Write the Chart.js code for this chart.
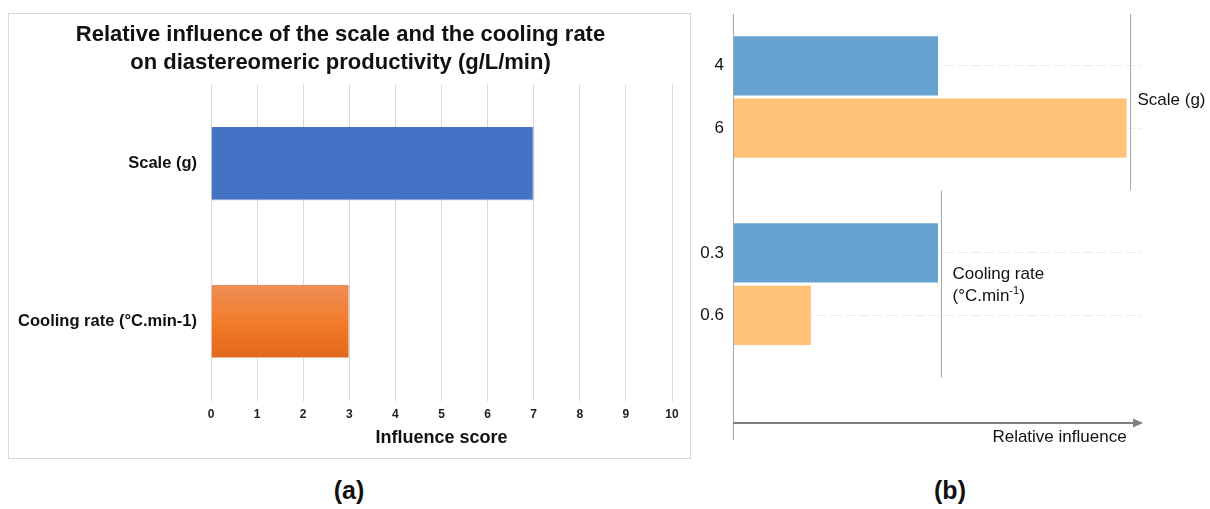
<!DOCTYPE html>
<html>
<head>
<meta charset="utf-8">
<script src="https://cdn.jsdelivr.net/npm/chart.js@4.4.1/dist/chart.umd.min.js"></script>
<style>
  body { margin: 0; width: 1210px; height: 509px; background: #fff; position: relative; overflow: hidden; font-family: "Liberation Sans", Arial, sans-serif; }
  #boxA { position: absolute; left: 8px; top: 13px; width: 681px; height: 444px; border: 1px solid #d9d9d9; }
  #boxB { position: absolute; left: 690px; top: 0; width: 520px; height: 460px; }
  .tag { position: absolute; top: 476px; font-weight: bold; font-size: 25px; color: #111; transform: translateX(-50%); }
</style>
</head>
<body>
<div id="boxA"><canvas id="scoreChart"></canvas></div>
<div id="boxB"><canvas id="levelChart"></canvas></div>
<div class="tag" style="left:349px">(a)</div>
<div class="tag" style="left:950px">(b)</div>
<script>
// (a) influence score of each factor
const factorNames = ["Scale (g)", "Cooling rate (°C.min-1)"];
const influenceScores = [7, 3];

// (b) relative influence of each factor level
const levelLabels = ["4", "6", "0.3", "0.6"];
const levelRows = [0, 1, 3, 4];
const relativeInfluence = [5, 9.6, 5, 1.9];
const levelGroup = [0, 0, 1, 1];
const groupNames = ["Scale (g)", "Cooling rate"];

const FONT = "'Liberation Sans', Arial, sans-serif";
Chart.defaults.font.family = FONT;
Chart.defaults.color = "#222";

function orangeFill(ctx) {
  const chart = ctx.chart;
  if (!chart.chartArea) return "#f07e2e";
  const y = chart.scales.y.getPixelForValue(ctx.dataIndex);
  const g = chart.ctx.createLinearGradient(0, y - 37, 0, y + 37);
  g.addColorStop(0, "#f08d58");
  g.addColorStop(0.5, "#f37c2b");
  g.addColorStop(1, "#e2671a");
  return g;
}

new Chart(document.getElementById("scoreChart"), {
  type: "bar",
  data: {
    labels: factorNames,
    datasets: [{
      data: influenceScores,
      backgroundColor: ctx => ctx.dataIndex === 0 ? "#4472c4" : orangeFill(ctx),
      borderColor: ["rgba(40,70,130,0.35)", "rgba(150,70,20,0.3)"],
      borderWidth: { top: 0, left: 0, right: 1, bottom: 1 },
      borderSkipped: false,
      categoryPercentage: 0.5,
      barPercentage: 0.93
    }]
  },
  options: {
    indexAxis: "y",
    responsive: true,
    maintainAspectRatio: false,
    animation: false,
    layout: { padding: { left: 0, right: 18, top: 0, bottom: 11 } },
    plugins: {
      legend: { display: false },
      tooltip: { enabled: false },
      title: {
        display: true,
        text: ["Relative influence of the scale and the cooling rate", "on diastereomeric productivity (g/L/min)"],
        color: "#111",
        font: { size: 22, weight: "bold", lineHeight: 1.27 },
        padding: { top: 7, bottom: 8 }
      }
    },
    scales: {
      x: {
        min: 0,
        max: 10,
        ticks: { stepSize: 1, padding: 7, color: "#222", font: { size: 12, weight: "bold" } },
        grid: { color: "#d9d9d9", drawTicks: false },
        border: { display: false },
        title: { display: true, text: "Influence score", color: "#111", font: { size: 18, weight: "bold", lineHeight: 1 }, padding: { top: 0, bottom: 0 } }
      },
      y: {
        ticks: { padding: 14, color: "#111", font: { size: 16.5, weight: "bold" } },
        grid: { display: false, drawTicks: false },
        border: { display: false },
        afterFit: scale => { scale.width = 202; }
      }
    }
  }
});

// brackets, group names and the arrowed axis of panel (b)
const levelDecor = {
  id: "levelDecor",
  afterDraw(chart) {
    const { ctx, chartArea, scales: { x, y } } = chart;
    ctx.save();
    // left axis line
    ctx.strokeStyle = "#a6a6a6";
    ctx.lineWidth = 1;
    ctx.beginPath();
    ctx.moveTo(chartArea.left + 0.5, chartArea.top);
    ctx.lineTo(chartArea.left + 0.5, chartArea.bottom);
    ctx.stroke();

    // bottom arrow
    const ay = chartArea.bottom - 17;
    ctx.strokeStyle = "#7f7f7f";
    ctx.fillStyle = "#7f7f7f";
    ctx.lineWidth = 2;
    ctx.beginPath();
    ctx.moveTo(chartArea.left, ay);
    ctx.lineTo(chartArea.right - 8, ay);
    ctx.stroke();
    ctx.beginPath();
    ctx.moveTo(chartArea.right, ay);
    ctx.lineTo(chartArea.right - 10, ay - 4.5);
    ctx.lineTo(chartArea.right - 10, ay + 4.5);
    ctx.closePath();
    ctx.fill();

    ctx.fillStyle = "#111";
    ctx.font = "17px " + FONT;
    ctx.textAlign = "right";
    ctx.textBaseline = "middle";
    ctx.fillText("Relative influence", x.getPixelForValue(relativeInfluence[1]), ay + 14);

    // one bracket per factor
    groupNames.forEach((name, g) => {
      const idx = levelGroup.map((v, i) => v === g ? i : -1).filter(i => i >= 0);
      const rows = idx.map(i => levelRows[i]);
      const first = Math.min(...rows), last = Math.max(...rows);
      const prev = levelRows.filter(r => r < first);
      const next = levelRows.filter(r => r > last);
      const top = prev.length ? (Math.max(...prev) + first) / 2 : y.min;
      const bottom = next.length ? (Math.min(...next) + last) / 2 : last + 1;
      const bx = Math.round(x.getPixelForValue(Math.max(...idx.map(i => relativeInfluence[i])))) + 3.5;
      ctx.strokeStyle = "#a6a6a6";
      ctx.lineWidth = 1;
      ctx.beginPath();
      ctx.moveTo(bx, y.getPixelForValue(top));
      ctx.lineTo(bx, y.getPixelForValue(bottom));
      ctx.stroke();

      const cy = y.getPixelForValue((first + last) / 2);
      ctx.fillStyle = "#111";
      ctx.textAlign = "left";
      ctx.font = "17px " + FONT;
      if (g === 0) {
        ctx.fillText(name, bx + 7, cy + 3);
      } else {
        const tx = bx + 11;
        ctx.fillText(name, tx, cy - 10);
        let cx = tx;
        ctx.fillText("(°C.min", cx, cy + 12);
        cx += ctx.measureText("(°C.min").width;
        ctx.font = "11px " + FONT;
        ctx.fillText("-1", cx, cy + 7);
        cx += ctx.measureText("-1").width;
        ctx.font = "17px " + FONT;
        ctx.fillText(")", cx, cy + 12);
      }
    });
    ctx.restore();
  }
};

new Chart(document.getElementById("levelChart"), {
  type: "bar",
  data: {
    datasets: [{
      data: levelRows.map((r, i) => ({ x: relativeInfluence[i], y: r })),
      backgroundColor: levelRows.map((r, i) => i % 2 === 0 ? "#66a2d0" : "#ffc276"),
      categoryPercentage: 1,
      barPercentage: 0.95
    }]
  },
  options: {
    indexAxis: "y",
    responsive: true,
    maintainAspectRatio: false,
    animation: false,
    layout: { padding: { left: 0, right: 67, top: 14, bottom: 20 } },
    plugins: { legend: { display: false }, tooltip: { enabled: false } },
    scales: {
      x: { type: "linear", min: 0, max: 10, display: false, offset: false },
      y: {
        type: "linear",
        reverse: true,
        offset: false,
        min: -0.83,
        max: 6,
        afterBuildTicks: scale => { scale.ticks = levelRows.map(v => ({ value: v })); },
        ticks: {
          padding: 9,
          color: "#111",
          font: { size: 17 },
          callback: v => levelLabels[levelRows.indexOf(v)]
        },
        grid: { color: "#ececec", drawTicks: false, offset: false },
        border: { display: false, dash: [10, 4] },
        afterFit: scale => {
          scale.width = 43;
          scale.paddingTop = 0;
          scale.paddingBottom = 0;
        }
      }
    }
  },
  plugins: [levelDecor]
});
</script>
</body>
</html>
